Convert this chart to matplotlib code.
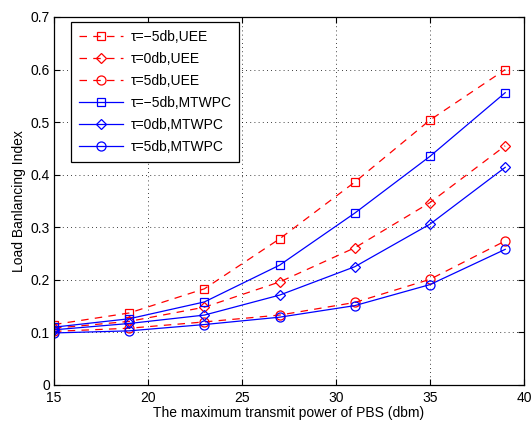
import matplotlib
matplotlib.use("Agg")
import matplotlib.pyplot as plt

plt.rcParams['font.family'] = ['Liberation Sans', 'DejaVu Sans']

power = [15, 19, 23, 27, 31, 35, 39]

uee_m5 = [0.115, 0.137, 0.183, 0.278, 0.386, 0.504, 0.600]
uee_0 = [0.108, 0.121, 0.148, 0.196, 0.261, 0.347, 0.455]
uee_5 = [0.102, 0.108, 0.120, 0.133, 0.157, 0.201, 0.274]
mtwpc_m5 = [0.110, 0.126, 0.158, 0.228, 0.327, 0.435, 0.556]
mtwpc_0 = [0.105, 0.117, 0.133, 0.171, 0.225, 0.306, 0.414]
mtwpc_5 = [0.099, 0.103, 0.115, 0.129, 0.151, 0.191, 0.258]

labels = ['τ=−5db,UEE', 'τ=0db,UEE', 'τ=5db,UEE',
          'τ=−5db,MTWPC', 'τ=0db,MTWPC', 'τ=5db,MTWPC']

W, H = 531, 424
fig = plt.figure(figsize=(W / 100, H / 100), dpi=100)
left, right, top, bottom = 54, 524, 17, 385
ax = fig.add_axes([left / W, (H - bottom) / H, (right - left) / W, (bottom - top) / H])

series = [uee_m5, uee_0, uee_5, mtwpc_m5, mtwpc_0, mtwpc_5]
markers = ['s', 'D', 'o', 's', 'D', 'o']
sizes = {'s': 6, 'D': 5, 'o': 6.5}
for i, (ys, mk, lb) in enumerate(zip(series, markers, labels)):
    red = i < 3
    ax.plot(power, ys,
            color='#ff0000' if red else '#0000ff',
            linestyle=(0, (6, 5)) if red else '-',
            linewidth=0.9,
            marker=mk, markersize=sizes[mk],
            markerfacecolor='none', markeredgewidth=0.9,
            label=lb)

ax.set_xlim(15, 40)
ax.set_ylim(0, 0.7)
ax.set_xticks([15, 20, 25, 30, 35, 40])
ax.set_yticks([0, 0.1, 0.2, 0.3, 0.4, 0.5, 0.6, 0.7])
ax.set_yticklabels(['0', '0.1', '0.2', '0.3', '0.4', '0.5', '0.6', '0.7'])
ax.tick_params(direction='in', top=True, right=True, labelsize=10, length=4, width=0.8)
ax.tick_params(axis='x', pad=4)
ax.tick_params(axis='y', pad=3)
ax.grid(True, color='black', linestyle=(0, (1, 4)), linewidth=0.6)
for s in ax.spines.values():
    s.set_linewidth(0.9)

ax.set_xlabel('The maximum transmit power of PBS (dbm)', fontsize=10, labelpad=1)
ax.set_ylabel('Load Banlancing Index', fontsize=10, labelpad=3)

# legend frame placed in axes pixels: left 71, top 22
lx = (71 - left) / (right - left)
ly = 1 - (22 - top) / (bottom - top)
leg = ax.legend(loc='upper left', bbox_to_anchor=(lx, ly), borderaxespad=0,
                fontsize=10, frameon=True, fancybox=False,
                edgecolor='black', framealpha=1, handlelength=3.2,
                labelspacing=0.58, handletextpad=0.55, borderpad=0.55)
leg.get_frame().set_linewidth(0.9)

fig.savefig('out.png', dpi=100)
